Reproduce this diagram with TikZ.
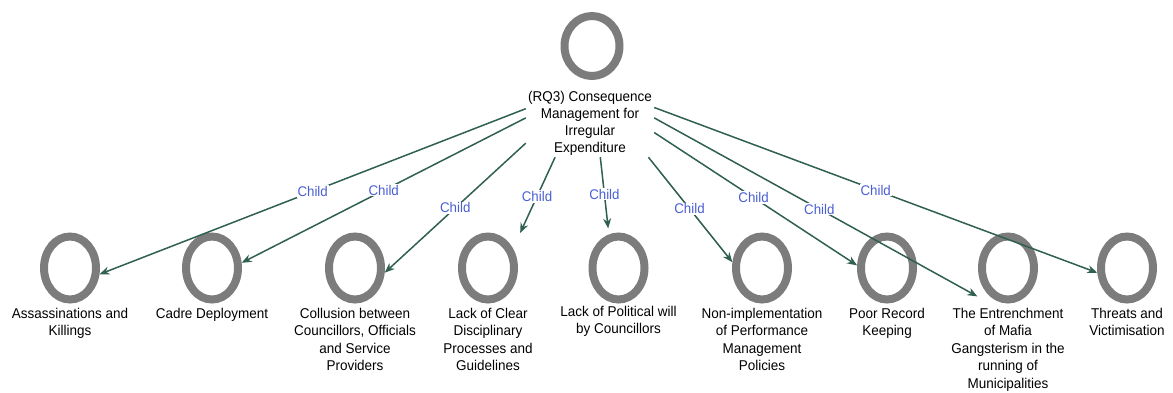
\documentclass[tikz,border=0pt]{standalone}
\usepackage{fontspec}
\setmainfont{Liberation Sans}[FakeStretch=0.95]
\usetikzlibrary{arrows.meta,shapes.geometric}
\definecolor{ringcol}{HTML}{7C7C7C}
\definecolor{edgecol}{HTML}{30604F}
\definecolor{childcol}{HTML}{4A5FD3}
\begin{document}
\begin{tikzpicture}[x=1pt,y=-1pt,
  ringnode/.style={ellipse, draw=ringcol, line width=8pt, minimum width=52pt, minimum height=63pt, inner sep=0pt},
  lblnode/.style={anchor=north, align=center, inner sep=0pt, font=\fontsize{14.2}{17.5}\selectfont},
  conn/.style={draw=edgecol, line width=1.5pt, -{Stealth[length=10pt,width=8pt]}},
  childlbl/.style={fill=white, text=childcol, inner sep=1pt, font=\fontsize{14}{16}\selectfont}]
\useasboundingbox (0,0) rectangle (1173,392);

% root
\node[ringnode, minimum width=55pt, minimum height=60pt] (root) at (592,46) {};
\node[align=center, minimum width=128pt, minimum height=67pt, inner sep=0pt,
      font=\fontsize{14.2}{17}\selectfont] (rootlbl) at (590,123.5)
  {(RQ3) Consequence\\Management for\\Irregular\\Expenditure};

% children
\node[ringnode] (c1) at (70,268) {};
\node[lblnode] (l1) at (70,308) {Assassinations and\\Killings};
\node[ringnode] (c2) at (212,268) {};
\node[lblnode] (l2) at (212,308) {Cadre Deployment};
\node[ringnode] (c3) at (355,268) {};
\node[lblnode] (l3) at (355,308) {Collusion between\\Councillors, Officials\\and Service\\Providers};
\node[ringnode] (c4) at (488,268) {};
\node[lblnode] (l4) at (488,308) {Lack of Clear\\Disciplinary\\Processes and\\Guidelines};
\node[ringnode] (c5) at (618.5,268) {};
\node[lblnode] (l5) at (618.5,306) {Lack of Political will\\by Councillors};
\node[ringnode] (c6) at (762,268) {};
\node[lblnode] (l6) at (762,308) {Non-implementation\\of Performance\\Management\\Policies};
\node[ringnode] (c7) at (887,268) {};
\node[lblnode] (l7) at (887,308) {Poor Record\\Keeping};
\node[ringnode] (c8) at (1008,268) {};
\node[lblnode] (l8) at (1008,308) {The Entrenchment\\of Mafia\\Gangsterism in the\\running of\\Municipalities};
\node[ringnode] (c9) at (1127,268) {};
\node[lblnode] (l9) at (1127,308) {Threats and\\Victimisation};

% connectors
\draw[conn] (rootlbl.167) -- node[childlbl, pos=0.5] {Child} (c1.-12);
\draw[conn] (rootlbl.175) -- node[childlbl, pos=0.5] {Child} (c2.10);
\draw[conn] (rootlbl.197) -- node[childlbl, pos=0.5] {Child} (c3.-9);
\draw[conn, shorten >=17pt] (rootlbl.224) -- node[childlbl, pos=0.43] {Child} (c4.38);
\draw[conn, shorten >=6pt] (rootlbl.287) -- node[childlbl, pos=0.48] {Child} (c5.106);
\draw[conn] (rootlbl.330) -- node[childlbl, pos=0.49] {Child} (c6.169);
\draw[conn] (rootlbl.352.5) -- node[childlbl, pos=0.49] {Child} (c7.175);
\draw[conn, shorten >=24pt] (rootlbl.5) -- node[childlbl, pos=0.48] {Child} (l8.103);
\draw[conn] (rootlbl.14) -- node[childlbl, pos=0.5] {Child} (c9.189);
\end{tikzpicture}
\end{document}
